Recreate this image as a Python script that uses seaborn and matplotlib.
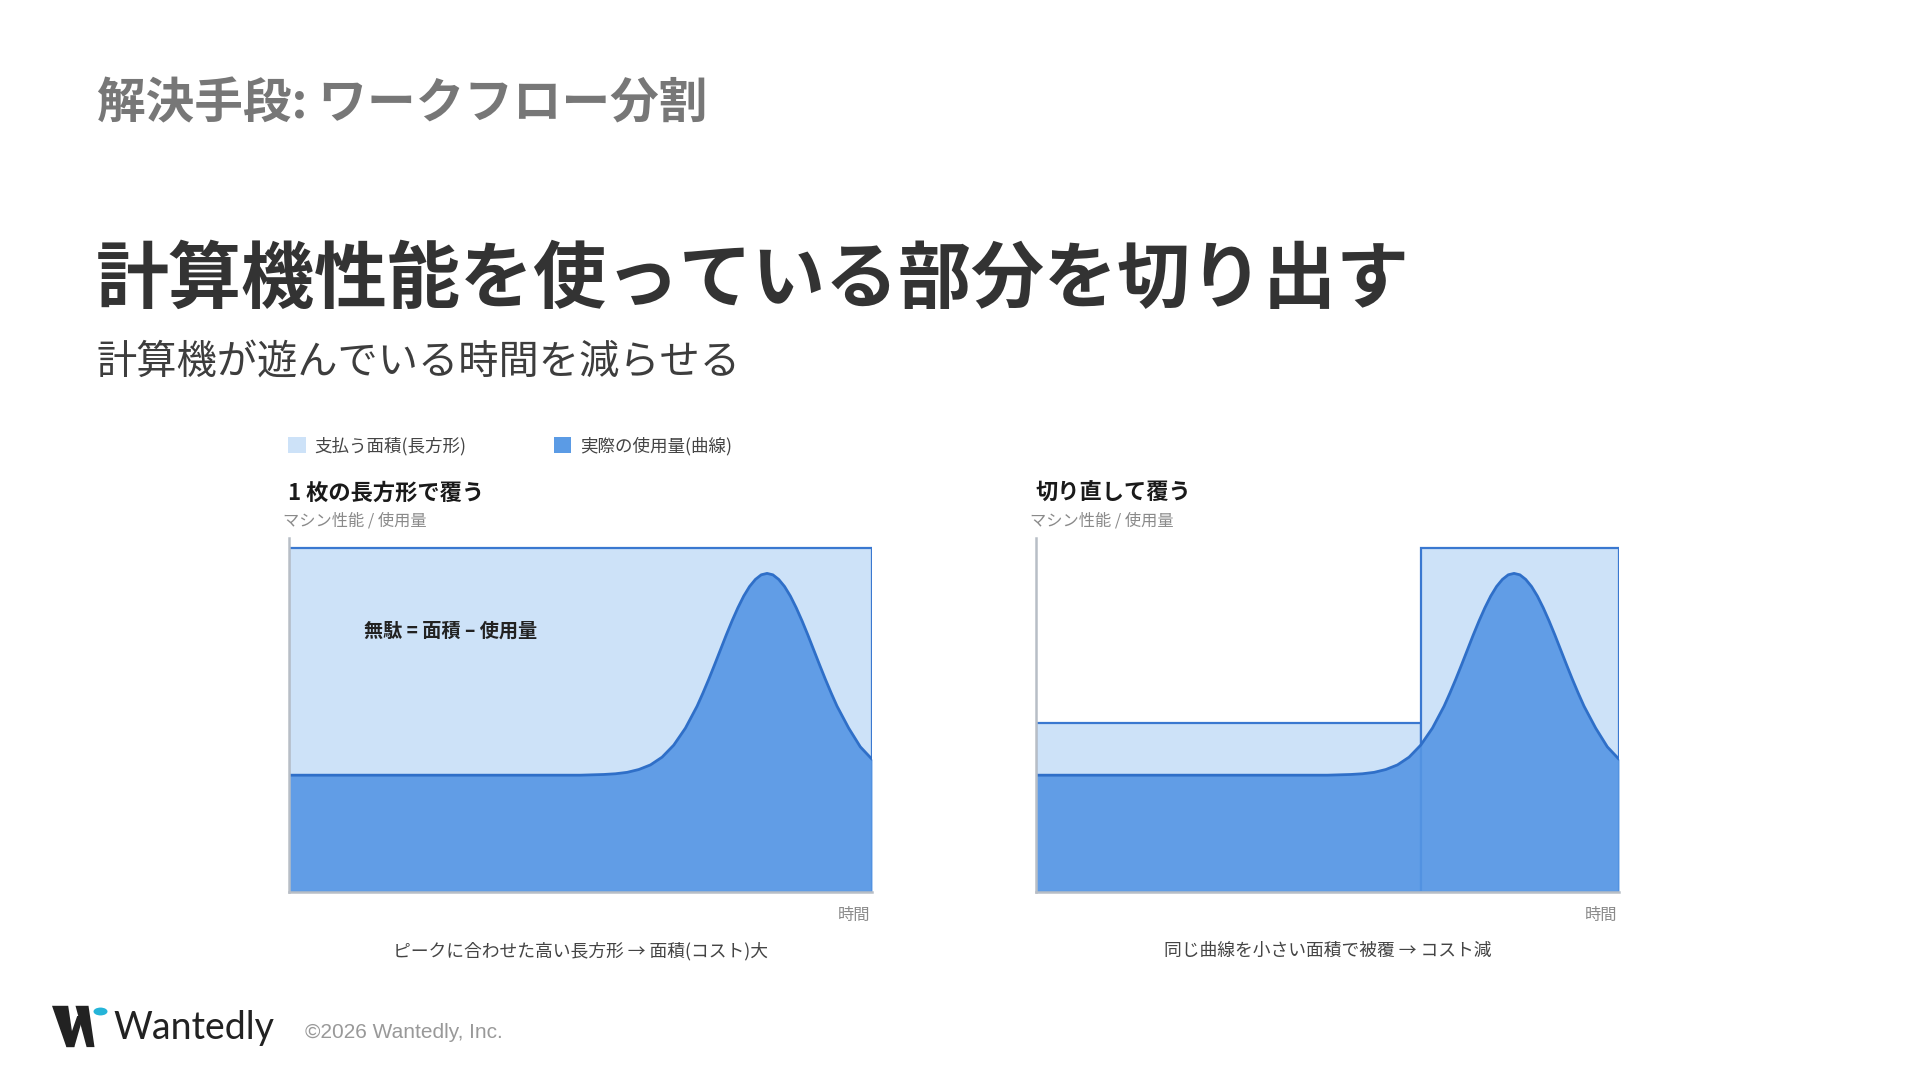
import numpy as np
import seaborn as sns
import matplotlib.pyplot as plt
from matplotlib.patches import Patch, Polygon, Circle

# usage curve (x = time, y = machine usage, 0-100 scale)
time = [0, 10, 20, 30, 40, 50, 52, 54, 56, 58, 60, 62, 64, 66, 68, 70, 71, 72,
        73, 74, 75, 76, 77, 78, 79, 80, 81, 82, 83, 84, 85, 86, 87, 88, 89, 90,
        91, 92, 93, 94, 96, 98, 100]
usage = [33.0, 33.0, 33.0, 33.0, 33.0, 33.0, 33.1, 33.2, 33.4, 33.8, 34.6, 35.9,
         38.1, 41.5, 46.3, 52.5, 56.2, 60.1, 64.2, 68.4, 72.6, 76.6, 80.3, 83.6,
         86.3, 88.3, 89.6, 90.0, 89.6, 88.3, 86.3, 83.6, 80.3, 76.6, 72.6, 68.4,
         64.2, 60.1, 56.2, 52.5, 46.3, 41.0, 37.5]

# paid rectangles: left edge, width, height
single_x = [0]
single_w = [100]
single_h = [97.2]
split_x = [0, 66]
split_w = [66, 34]
split_h = [47.7, 97.2]

panel_titles = ['1 枚の長方形で覆う', '切り直して覆う']
captions = ['ピークに合わせた高い長方形 → 面積(コスト)大',
            '同じ曲線を小さい面積で被覆 → コスト減']
legend_labels = ['支払う面積(長方形)', '実際の使用量(曲線)']

LIGHT = '#cde2f8'
DARK = '#5596e4'
EDGE = '#3a78d0'
LINE = '#2f6fc8'
AXIS = '#b8bec6'

sns.set_theme(style='white')
plt.rcParams['font.family'] = ['Noto Sans CJK JP', 'DejaVu Sans']

fig = plt.figure(figsize=(19.2, 10.8), dpi=100)
W, H = 1920, 1080


def fx(px):
    return px / W


def fy(py):
    return 1 - py / H


def draw_panel(ax, rx, rw, rh):
    ax.bar(rx, rh, width=rw, align='edge', color=LIGHT, edgecolor=EDGE,
           linewidth=1.6, zorder=1)
    ax.fill_between(time, usage, 0, color=DARK, alpha=0.9, lw=0, zorder=2)
    sns.lineplot(x=time, y=usage, ax=ax, color=LINE, linewidth=2.0, zorder=3)
    ax.set_xlim(0, 100)
    ax.set_ylim(0, 100)
    ax.set_xticks([])
    ax.set_yticks([])
    ax.set_xlabel('')
    ax.set_ylabel('')
    for s in ['top', 'right']:
        ax.spines[s].set_visible(False)
    for s in ['left', 'bottom']:
        ax.spines[s].set_color(AXIS)
        ax.spines[s].set_linewidth(1.8)
        ax.spines[s].set_zorder(4)


ax_left = fig.add_axes([fx(289), fy(892), fx(583), 354 / H])
ax_right = fig.add_axes([fx(1036), fy(892), fx(583), 354 / H])
draw_panel(ax_left, single_x, single_w, single_h)
draw_panel(ax_right, split_x, split_w, split_h)

ax_left.text(12.9, 73.7, '無駄 = 面積 – 使用量', fontsize=13.8, fontweight='bold',
             color='#222222', va='center', ha='left')

# panel labels
for ax_x0, title, cap in [(289, panel_titles[0], captions[0]),
                          (1036, panel_titles[1], captions[1])]:
    fig.text(fx(ax_x0 - 1), fy(493), title, fontsize=16, fontweight='bold',
             color='#1a1a1a', va='center', ha='left')
    fig.text(fx(ax_x0 - 6), fy(521), 'マシン性能 / 使用量', fontsize=11.7,
             color='#8a8a8a', va='center', ha='left')
    fig.text(fx(ax_x0 + 581), fy(915), '時間', fontsize=11.7,
             color='#8a8a8a', va='center', ha='right')
    fig.text(fx(ax_x0 + 291.5), fy(951), cap, fontsize=12.8,
             color='#444444', va='center', ha='center')

# legend
handles = [Patch(facecolor=LIGHT, edgecolor='none'),
           Patch(facecolor='#5b9be5', edgecolor='none')]
fig.legend(handles, legend_labels, loc='center left',
           bbox_to_anchor=(fx(288), fy(446)), ncol=2, frameon=False,
           fontsize=12.6, handlelength=1.0, handleheight=1.0,
           handletextpad=0.5, columnspacing=5.0, borderpad=0,
           borderaxespad=0, labelcolor='#444444')

# headings
fig.text(fx(97), fy(104), '解決手段: ワークフロー分割', fontsize=35,
         fontweight='bold', color='#777777', va='center', ha='left')
fig.text(fx(96), fy(281), '計算機性能を使っている部分を切り出す', fontsize=52.6,
         fontweight='bold', color='#333333', va='center', ha='left')
fig.text(fx(97), fy(362), '計算機が遊んでいる時間を減らせる', fontsize=29,
         color='#3d3d3d', va='center', ha='left')

# footer logo
logo_strokes = [
    [(52.0, 1005.8), (68.2, 1005.8), (74.3, 1047.1), (66.4, 1047.1)],
    [(66.4, 1047.1), (74.3, 1047.1), (83.3, 1016.0), (77.2, 1016.0)],
    [(75.5, 1005.8), (88.5, 1005.8), (94.5, 1047.1), (86.6, 1047.1)],
]
for pts in logo_strokes:
    fig.add_artist(Polygon([(fx(a), fy(b)) for a, b in pts], closed=True,
                           facecolor='#222222', edgecolor='none',
                           transform=fig.transFigure))
fig.add_artist(Circle((fx(100.5), fy(1011.5)), 7 / W, facecolor='#25b4d8',
                      edgecolor='none', transform=fig.transFigure))
fig.text(fx(113), fy(1039), 'Wantedly', fontsize=27, family=['Lato', 'DejaVu Sans'],
         color='#222222', va='baseline', ha='left')
fig.text(fx(305), fy(1032), '©2026 Wantedly, Inc.', fontsize=15,
         family=['Liberation Sans', 'DejaVu Sans'], color='#999999',
         va='center', ha='left')

fig.savefig('out.png', dpi=100)
